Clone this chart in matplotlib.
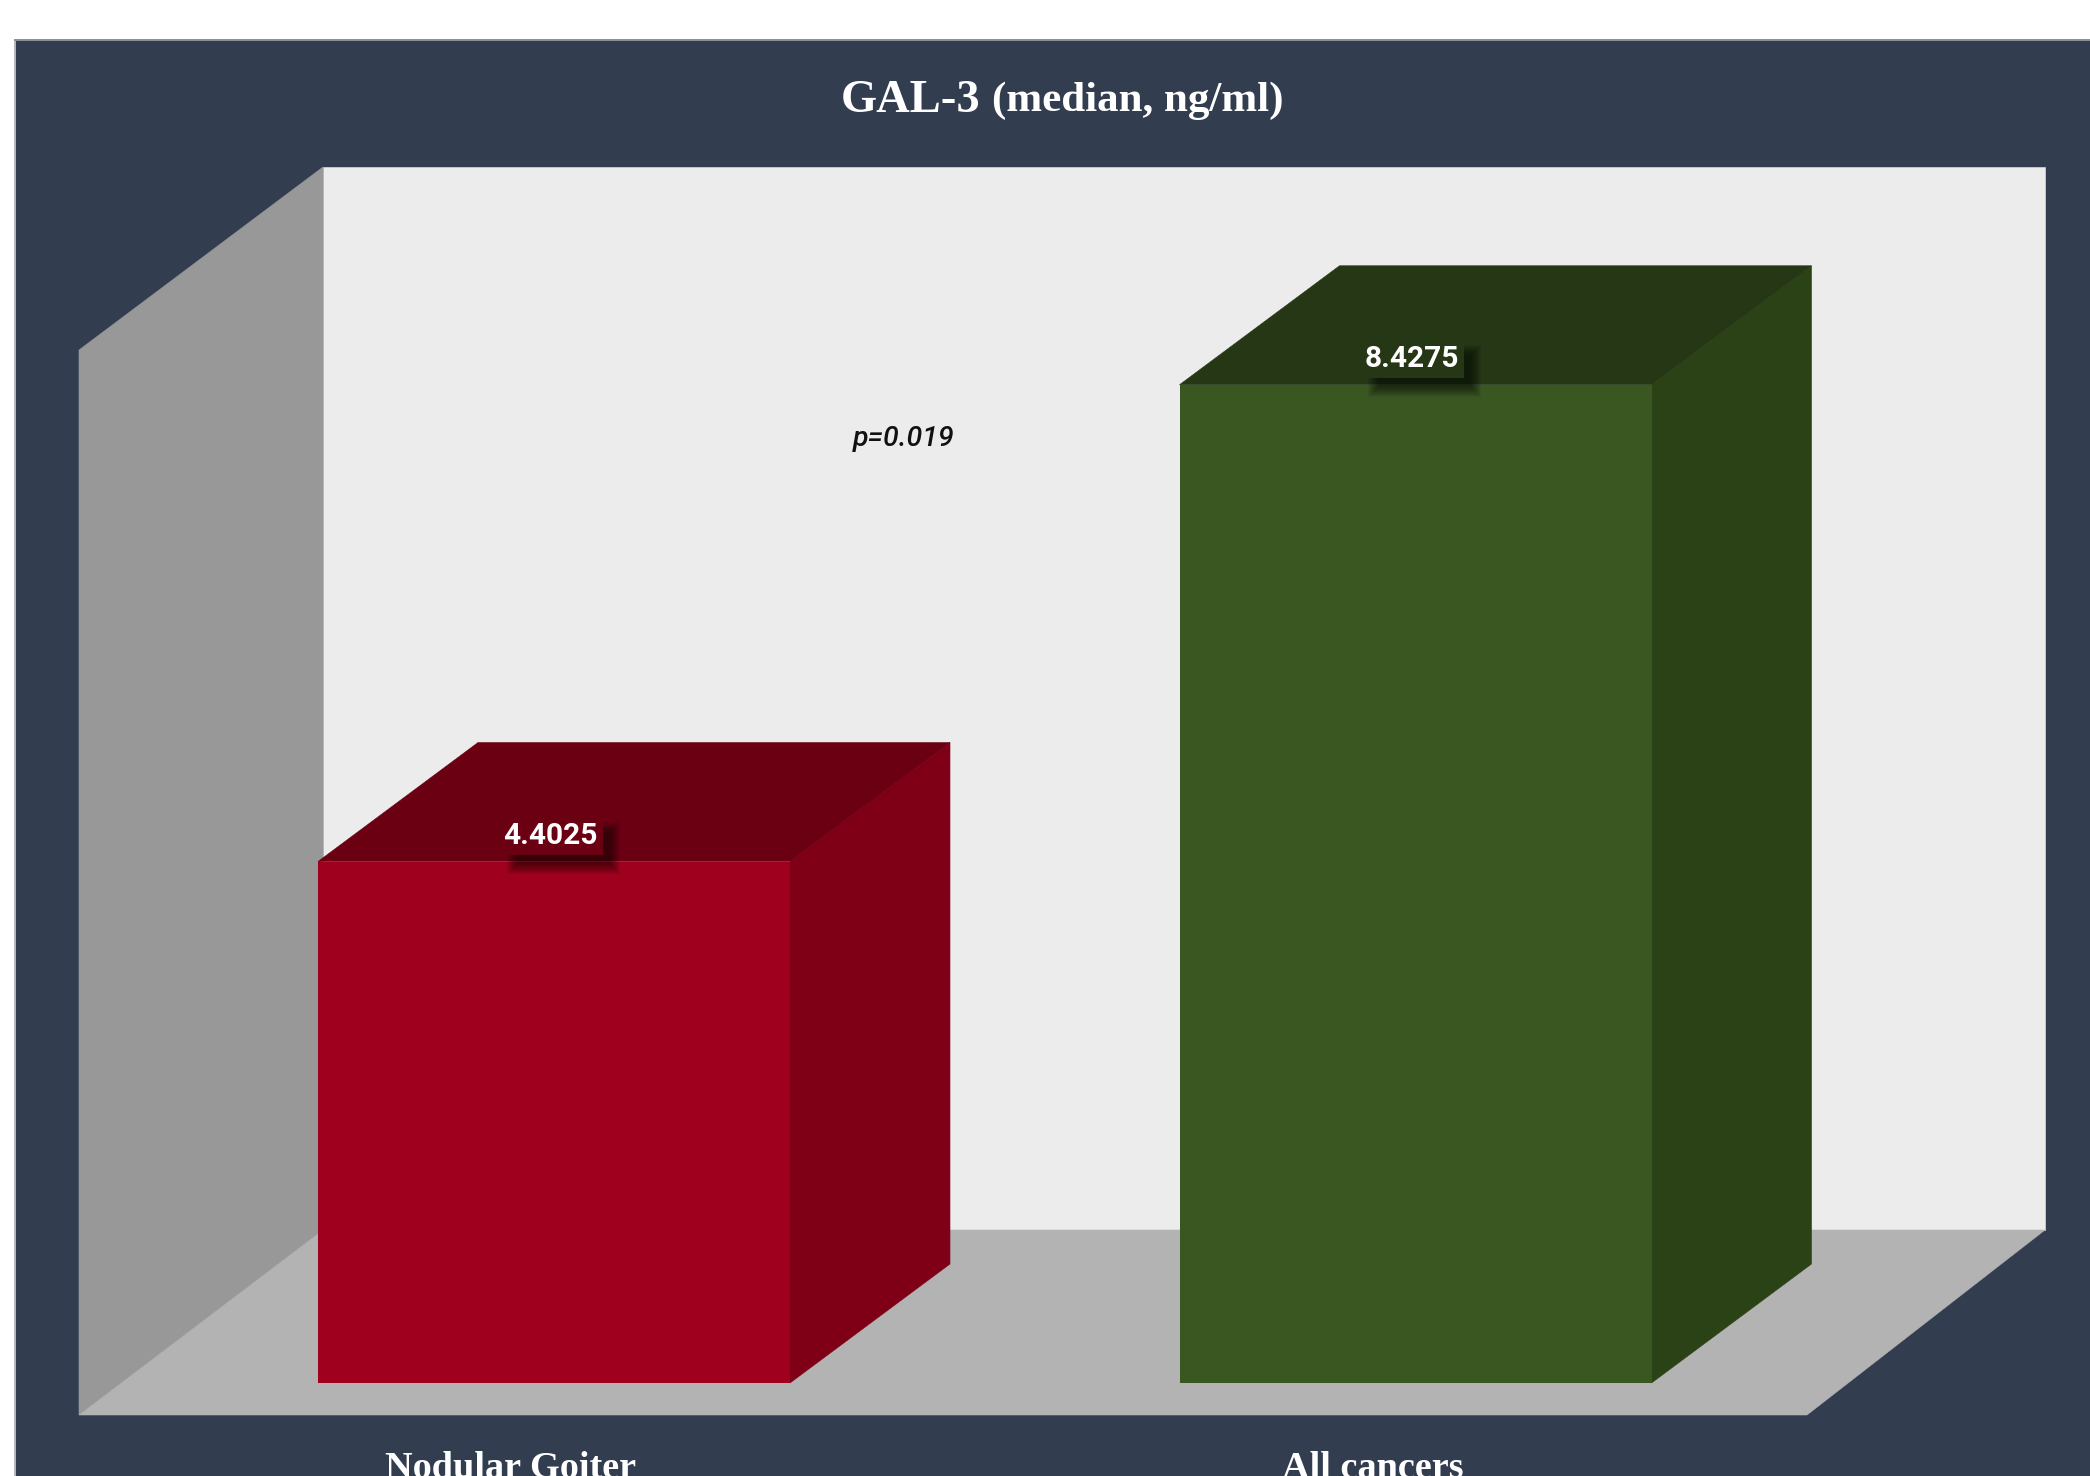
import matplotlib
matplotlib.use("Agg")
import matplotlib.pyplot as plt
from matplotlib.patches import Polygon, Rectangle

# Chart content
categories = ["Nodular Goiter", "All cancers"]
medians = [4.4025, 8.4275]
value_labels = ["4.4025", "8.4275"]
title_main = "GAL-3"
title_unit = "(median, ng/ml)"
p_text = "p=0.019"

front_colors = ["#9E001D", "#3A5722"]
side_colors = ["#7F0016", "#2A4216"]
top_colors = ["#6B0012", "#253715"]

PANEL = "#333D50"
WALL = "#989898"
BACK = "#ECECEC"
FLOOR = "#B3B3B3"

# Layout of the 3-D box, in figure pixels
W, H = 2090, 1476
BASE_Y = 1383          # baseline of the bars
PX_PER_UNIT = 118.45   # vertical pixels per ng/ml
CAT_0_X = 554          # centre of first bar front
CAT_STEP = 861.5       # pixels between category centres
BAR_PX = 472
DEPTH_X, DEPTH_Y = 160, 119

fig = plt.figure(figsize=(W / 100, H / 100), dpi=100, facecolor="white")
ax = fig.add_axes([0, 0, 1, 1])
ax.set_xlim(-CAT_0_X / CAT_STEP, (W - CAT_0_X) / CAT_STEP)
ax.set_ylim((BASE_Y - H) / PX_PER_UNIT, BASE_Y / PX_PER_UNIT)
ax.axis("off")


def xd(px):
    return (px - CAT_0_X) / CAT_STEP


def yd(px):
    return (BASE_Y - px) / PX_PER_UNIT


def poly(points, color, z):
    ax.add_patch(Polygon([(xd(x), yd(y)) for x, y in points], closed=True,
                         facecolor=color, edgecolor=color, linewidth=0.4, zorder=z))


# Dark panel with a thin grey outline on its open sides
poly([(15, 40), (W + 5, 40), (W + 5, H + 5), (15, H + 5)], PANEL, 0)
ax.plot([xd(15), xd(15)], [yd(H), yd(40)], color="#B4B8BE", lw=1.4, zorder=0.5)
ax.plot([xd(15), xd(W)], [yd(40), yd(40)], color="#8A8F98", lw=1.4, zorder=0.5)

# Chart walls and floor
poly([(323, 167), (2045, 167), (2045, 1230), (323, 1230)], BACK, 1)
poly([(79, 350), (323, 167), (323, 1230), (79, 1415)], WALL, 1)
poly([(79, 1415), (323, 1230), (2045, 1230), (1807, 1415)], FLOOR, 1.5)

half_w = BAR_PX / 2 / CAT_STEP
dx = DEPTH_X / CAT_STEP
dy = DEPTH_Y / PX_PER_UNIT

for i, value in enumerate(medians):
    l, r = i - half_w, i + half_w
    # Side and top faces first, front face over them
    ax.add_patch(Polygon([(r, 0), (r + dx, dy), (r + dx, value + dy), (r, value)],
                         facecolor=side_colors[i], edgecolor=side_colors[i], lw=0.4, zorder=2))
    ax.add_patch(Polygon([(l, value), (l + dx, value + dy), (r + dx, value + dy), (r, value)],
                         facecolor=top_colors[i], edgecolor=top_colors[i], lw=0.4, zorder=2.1))
    ax.bar(i, value, width=2 * half_w, color=front_colors[i], linewidth=0, zorder=2.2)

    # Value label: soft drop shadow, then a box in the top-face colour, then the number
    cx = i - 3.5 / CAT_STEP
    cy = value + 29 / PX_PER_UNIT
    for grow in range(10, -1, -1):
        g = grow * 1.0
        x0 = cx + (-39 - g + 5) / CAT_STEP
        x1 = cx + (64 + g - 5) / CAT_STEP
        y0 = cy - (36 + g - 5) / PX_PER_UNIT
        y1 = cy + (6 + g - 5) / PX_PER_UNIT
        ax.add_patch(Rectangle((x0, y0), x1 - x0, y1 - y0, facecolor="black",
                               alpha=0.055, linewidth=0, zorder=3))
    bx0, bx1 = cx - 51 / CAT_STEP, cx + 52 / CAT_STEP
    by0, by1 = cy - 22 / PX_PER_UNIT, cy + 16 / PX_PER_UNIT
    ax.add_patch(Rectangle((bx0, by0), bx1 - bx0, by1 - by0, facecolor=top_colors[i],
                           linewidth=0, zorder=3.1))
    ax.text(cx, cy, value_labels[i], color="white", fontsize=21.5, fontweight="bold",
            family="Roboto", ha="center", va="center_baseline", zorder=4)

    # Category label, centred on the bar's floor footprint
    ax.text(i - 43 / CAT_STEP, yd(1465), categories[i], color="white", fontsize=27.5,
            fontweight="bold", family="Liberation Serif", ha="center", va="center_baseline",
            zorder=4)

# Title in two sizes
ax.text(xd(841), yd(112), title_main, color="white", fontsize=33.5, fontweight="bold",
        family="Liberation Serif", ha="left", va="baseline", zorder=4)
ax.text(xd(992), yd(111), title_unit, color="white", fontsize=31, fontweight="bold",
        family="Liberation Serif", ha="left", va="baseline", zorder=4)

# Significance note
ax.text(xd(904), yd(436), p_text, color="#111111", fontsize=20.5, style="italic",
        fontweight="medium", family="Roboto", ha="center", va="center_baseline", zorder=4)

fig.savefig("out.png", dpi=100, facecolor="white")
